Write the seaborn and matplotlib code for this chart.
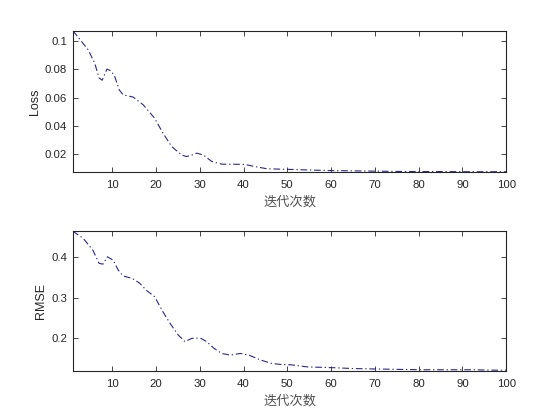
import matplotlib
matplotlib.use("Agg")
import matplotlib.pyplot as plt
import seaborn as sns
import pandas as pd

# ---- data ----
loss_iter = [1, 2, 3, 4.5, 6, 7, 7.7, 8.8, 9.6, 10.5, 11.6, 12.5, 14.8, 17.1, 19.7,
             21.6, 23.6, 25.8, 26.9, 28, 29.3, 30.8, 32.7, 35, 37.7, 40.3, 43, 45.3,
             48.3, 52, 56, 60, 65, 70, 75, 80, 85, 90, 95, 100]
loss_vals = [0.107, 0.1035, 0.0995, 0.0937, 0.0843, 0.0738, 0.0722, 0.0800, 0.0790,
             0.0755, 0.0654, 0.0619, 0.0603, 0.0548, 0.0454, 0.0349, 0.0254, 0.0196,
             0.0184, 0.0192, 0.0208, 0.0195, 0.0150, 0.0130, 0.0130, 0.0128, 0.0111,
             0.0098, 0.0095, 0.0092, 0.0088, 0.0085, 0.0083, 0.0081, 0.0079, 0.0078,
             0.0078, 0.0077, 0.0077, 0.0077]

rmse_iter = [1, 3.4, 5.6, 7, 7.9, 8.9, 10.2, 11.4, 12.5, 14.6, 16.3, 17.8, 19.7, 21.6,
             23.2, 25.1, 26.6, 28.2, 30.1, 31.6, 33.2, 35, 37, 39.3, 41.2, 43.9, 46.2,
             48.5, 51, 54.6, 60.7, 65, 69.8, 75, 81.3, 87, 92.7, 96.5, 100]
rmse_vals = [0.463, 0.445, 0.416, 0.384, 0.382, 0.400, 0.392, 0.367, 0.353, 0.347,
             0.335, 0.318, 0.302, 0.265, 0.237, 0.208, 0.192, 0.200, 0.201, 0.192,
             0.176, 0.163, 0.159, 0.163, 0.159, 0.147, 0.139, 0.136, 0.135, 0.130,
             0.128, 0.126, 0.125, 0.124, 0.123, 0.123, 0.123, 0.122, 0.122]

x_ticks = [10, 20, 30, 40, 50, 60, 70, 80, 90, 100]
loss_ticks = [0.02, 0.04, 0.06, 0.08, 0.1]
loss_ticklabels = ["0.02", "0.04", "0.06", "0.08", "0.1"]
rmse_ticks = [0.2, 0.3, 0.4]
rmse_ticklabels = ["0.2", "0.3", "0.4"]
xlabel = "迭代次数"

sns.set_style("ticks")
plt.rcParams['font.family'] = ['Liberation Sans', 'Noto Sans CJK SC', 'DejaVu Sans']

fig = plt.figure(figsize=(5.6, 4.2), dpi=100)
ax1 = fig.add_axes([0.130, 0.5905, 0.774, 0.336])
ax2 = fig.add_axes([0.130, 0.1167, 0.774, 0.333])

line_color = "#2a2a8a"
dash = (0, (6, 2.5, 1.2, 2.5))

df1 = pd.DataFrame({"iter": loss_iter, "Loss": loss_vals})
df2 = pd.DataFrame({"iter": rmse_iter, "RMSE": rmse_vals})
sns.lineplot(data=df1, x="iter", y="Loss", ax=ax1, color=line_color, linewidth=0.8,
             linestyle=dash, sort=True)
sns.lineplot(data=df2, x="iter", y="RMSE", ax=ax2, color=line_color, linewidth=0.8,
             linestyle=dash, sort=True)

ax1.set_xlim(1, 100)
ax1.set_ylim(0.0075, 0.107)
ax1.set_yticks(loss_ticks)
ax1.set_yticklabels(loss_ticklabels)
ax2.set_xlim(1, 100)
ax2.set_ylim(0.12, 0.463)
ax2.set_yticks(rmse_ticks)
ax2.set_yticklabels(rmse_ticklabels)

for ax, lab in ((ax1, "Loss"), (ax2, "RMSE")):
    ax.set_xticks(x_ticks)
    ax.tick_params(direction="in", top=True, right=True, length=3.5, width=0.6,
                   labelsize=8.2, labelcolor="#262626", color="#262626")
    ax.tick_params(axis="x", pad=6)
    ax.tick_params(axis="y", pad=4)
    for sp in ax.spines.values():
        sp.set_visible(True)
        sp.set_linewidth(0.8)
        sp.set_color("#262626")
    ax.set_xlabel(xlabel, fontsize=9.5, color="#505050",
                  family=['Noto Sans CJK SC', 'DejaVu Sans'], labelpad=3.5)
    ax.set_ylabel(lab, fontsize=9, color="#262626", labelpad=3)

fig.savefig("out.png", dpi=100, facecolor="white")
